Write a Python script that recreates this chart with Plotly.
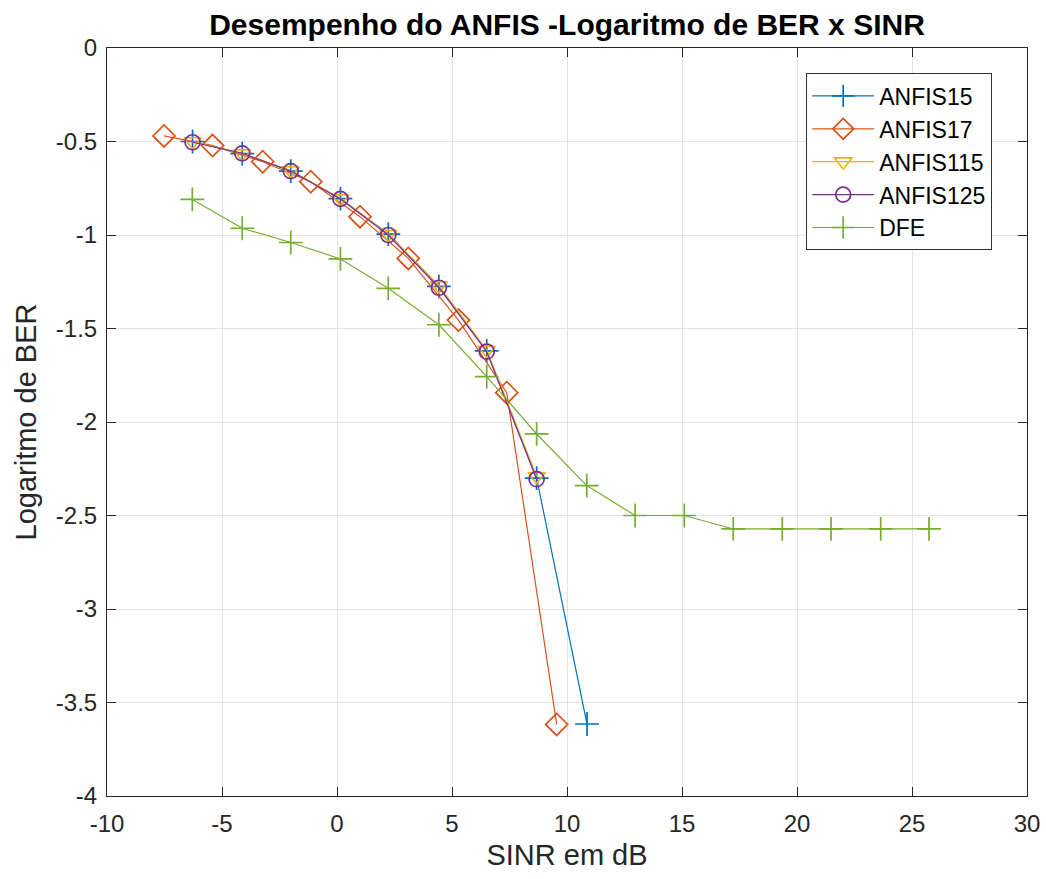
import plotly.graph_objects as go

# ANFIS15 / ANFIS115 / ANFIS125 share SINR grid
sinr_anfis = [-6.28, -4.12, -2.01, 0.15, 2.23, 4.43, 6.51, 8.68]
anfis15_x = sinr_anfis + [10.87]
anfis15_y = [-0.50, -0.565, -0.658, -0.805, -0.995, -1.275, -1.62, -2.30, -3.615]

anfis17_x = [-7.52, -5.41, -3.23, -1.14, 1.00, 3.10, 5.28, 7.38, 9.55]
anfis17_y = [-0.47, -0.522, -0.608, -0.715, -0.902, -1.125, -1.455, -1.843, -3.617]

anfis115_x = sinr_anfis
anfis115_y = [-0.50, -0.565, -0.655, -0.805, -0.995, -1.27, -1.615, -2.29]

anfis125_x = sinr_anfis
anfis125_y = [-0.504, -0.563, -0.658, -0.807, -1.0, -1.282, -1.624, -2.306]

dfe_x = [-6.29, -4.12, -2.01, 0.15, 2.23, 4.43, 6.51, 8.68, 10.86, 12.96,
         15.10, 17.23, 19.36, 21.48, 23.64, 25.74]
dfe_y = [-0.81, -0.964, -1.04, -1.128, -1.285, -1.48, -1.757, -2.064, -2.34,
         -2.50, -2.50, -2.572, -2.572, -2.572, -2.572, -2.572]

x_ticks = [-10, -5, 0, 5, 10, 15, 20, 25, 30]
x_ticklabels = ["-10", "-5", "0", "5", "10", "15", "20", "25", "30"]
y_ticks = [-4, -3.5, -3, -2.5, -2, -1.5, -1, -0.5, 0]
y_ticklabels = ["-4", "-3.5", "-3", "-2.5", "-2", "-1.5", "-1", "-0.5", "0"]

series = [
    ("ANFIS15", anfis15_x, anfis15_y, "#0072BD", "cross-thin-open", 17),
    ("ANFIS17", anfis17_x, anfis17_y, "#D95319", "diamond-open", 17),
    ("ANFIS115", anfis115_x, anfis115_y, "#EDB120", "triangle-down-open", 15),
    ("ANFIS125", anfis125_x, anfis125_y, "#7E2F8E", "circle-open", 15),
    ("DFE", dfe_x, dfe_y, "#77AC30", "cross-thin-open", 17),
]

fig = go.Figure()
for name, x, y, color, sym, size in series:
    fig.add_trace(go.Scatter(
        x=x, y=y, name=name, mode="lines+markers",
        line=dict(color=color, width=1.2),
        marker=dict(symbol=sym, size=size, color=color,
                    line=dict(color=color, width=1.7)),
    ))

font_family = "Liberation Sans, Arial, sans-serif"
fig.update_layout(
    width=1046, height=879,
    margin=dict(l=107, r=19, t=48, b=83),
    paper_bgcolor="white", plot_bgcolor="white",
    font=dict(family=font_family, color="#262626"),
    title=dict(text="<b>Desempenho do ANFIS -Logaritmo de BER x SINR</b>",
               x=(107 + 1027) / 2 / 1046, xanchor="center",
               y=1 - 24 / 879, yanchor="middle",
               font=dict(size=30, color="black", family=font_family)),
    showlegend=True,
    legend=dict(x=0.760, y=0.966, xanchor="left", yanchor="top",
                bgcolor="white", bordercolor="#333333", borderwidth=1,
                font=dict(size=23, color="black", family=font_family),
                tracegroupgap=0, itemwidth=62),
)
fig.update_xaxes(
    range=[-10, 30], tickmode="array", tickvals=x_ticks, ticktext=x_ticklabels,
    automargin=False, ticklabeloverflow="allow",
    showgrid=True, gridcolor="#E3E3E3", gridwidth=1,
    zeroline=False, showline=True, linecolor="#262626", linewidth=1,
    mirror="ticks", ticks="inside", ticklen=9, tickcolor="#262626",
    tickfont=dict(size=24, color="#262626"), ticklabelstandoff=6,
    title=dict(text="SINR em dB", font=dict(size=29, color="#262626"), standoff=8),
)
fig.update_yaxes(
    range=[-4, 0], tickmode="array", tickvals=y_ticks, ticktext=y_ticklabels,
    automargin=False,
    showgrid=True, gridcolor="#E3E3E3", gridwidth=1,
    zeroline=False, showline=True, linecolor="#262626", linewidth=1,
    mirror="ticks", ticks="inside", ticklen=9, tickcolor="#262626",
    tickfont=dict(size=24, color="#262626"), ticklabelstandoff=4,
    title=dict(text="Logaritmo de BER", font=dict(size=29, color="#262626"), standoff=10),
)

fig.write_html("out.html")
